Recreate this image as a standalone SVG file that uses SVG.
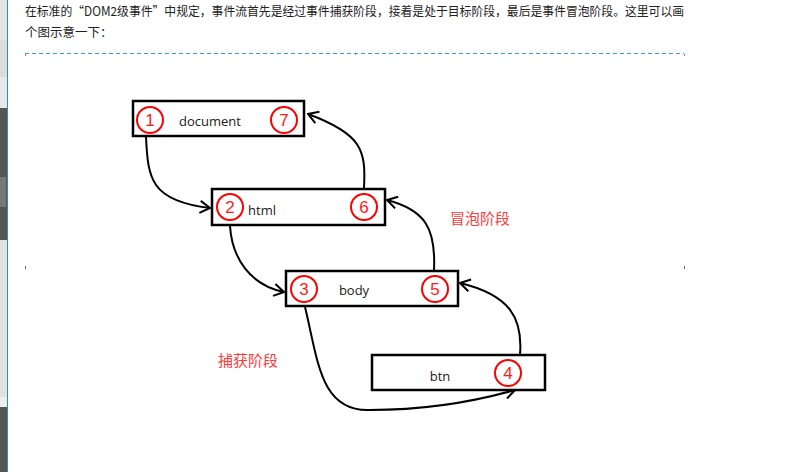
<svg xmlns="http://www.w3.org/2000/svg" width="806" height="472" viewBox="0 0 806 472">
<defs>
<style>
.box{fill:#fff;stroke:#000;stroke-width:2.5}
.num{fill:none;stroke:#ff0000;stroke-width:2}
.numt{fill:#ff1a1a;font-family:"Liberation Sans",Arial,sans-serif;font-size:17px;text-anchor:middle}
.lbl{fill:#1a1a1a;font-family:"Open Sans","Liberation Sans",sans-serif;font-size:13px;text-anchor:middle}
.con{fill:none;stroke:#000;stroke-width:2}
.phase{fill:#ff3b3b;font-family:"Noto Sans CJK SC",sans-serif;font-size:15px}
.body{fill:#222;font-family:"Noto Sans CJK SC",sans-serif;font-size:12.5px}
</style>
<marker id="arr" viewBox="0 0 12 14" refX="11" refY="7" markerWidth="12" markerHeight="14" markerUnits="userSpaceOnUse" orient="auto">
<path d="M1,1 L11,7 L1,13" fill="none" stroke="#000" stroke-width="2"/>
</marker>
</defs>
<rect width="806" height="472" fill="#fff"/>
<!-- left screenshot strip -->
<g id="strip">
<rect x="0" y="0" width="7" height="40" fill="#e4e4e4"/>
<rect x="0" y="40" width="7" height="37" fill="#dcdcdc"/>
<rect x="0" y="77" width="7" height="31" fill="#e8e8e8"/>
<rect x="0" y="108" width="7" height="132" fill="#555"/>
<rect x="0" y="177" width="6" height="30" fill="#777"/>
<rect x="0" y="240" width="7" height="157" fill="#e2e2e2"/>
<rect x="0" y="397" width="7" height="10" fill="#eee"/>
<rect x="0" y="407" width="7" height="65" fill="#555"/>
<line x1="7.5" y1="0" x2="7.5" y2="472" stroke="#2a8ae0" stroke-width="1"/>
</g>
<g id="intro">
<text class="body" x="25" y="16" textLength="659" lengthAdjust="spacingAndGlyphs">在标准的“DOM2级事件”中规定，事件流首先是经过事件捕获阶段，接着是处于目标阶段，最后是事件冒泡阶段。这里可以画</text>
<text class="body" x="25" y="37">个图示意一下：</text>
</g>
<g id="frame">
<line x1="25" y1="53.5" x2="684" y2="53.5" stroke="#3a9be0" stroke-width="1" stroke-dasharray="4,3"/>
<path d="M25.5,54 v2 M684.5,54 v2 M355.5,54 v1" stroke="#888" stroke-width="1"/>
<path d="M25.5,266 v3 M684.5,266 v3" stroke="#666" stroke-width="1"/>
</g>
<g id="connectors">
<path class="con" d="M146,137 C148,178 150,201 210,208" marker-end="url(#arr)"/>
<path class="con" d="M230,226 C232,258 250,285 284,292" marker-end="url(#arr)"/>
<path class="con" d="M305,307 C318,360 320,412 370,410 C430,410 480,400 515,390" marker-end="url(#arr)"/>
<path class="con" d="M520,355 C523,318 510,295 460,283" marker-end="url(#arr)"/>
<path class="con" d="M434,270 C436,228 425,210 387,200" marker-end="url(#arr)"/>
<path class="con" d="M364,188 C366,150 362,134 308,114" marker-end="url(#arr)"/>
</g>
<g id="document">
<rect class="box" x="133" y="101" width="171" height="35"/>
<text class="lbl" x="210" y="126">document</text>
<circle class="num" cx="150" cy="120" r="13"/><text class="numt" x="150" y="126">1</text>
<circle class="num" cx="284" cy="120" r="13"/><text class="numt" x="284" y="126">7</text>
</g>
<g id="html">
<rect class="box" x="212" y="189" width="173" height="36"/>
<text class="lbl" x="262" y="215">html</text>
<circle class="num" cx="230" cy="207" r="13"/><text class="numt" x="230" y="213">2</text>
<circle class="num" cx="364" cy="207" r="13"/><text class="numt" x="364" y="213">6</text>
</g>
<g id="body">
<rect class="box" x="286" y="271" width="172" height="35"/>
<text class="lbl" x="354" y="295">body</text>
<circle class="num" cx="304" cy="289" r="13"/><text class="numt" x="304" y="295">3</text>
<circle class="num" cx="435" cy="289" r="13"/><text class="numt" x="435" y="295">5</text>
</g>
<g id="btn">
<rect class="box" x="372" y="355" width="173" height="35"/>
<text class="lbl" x="440" y="381">btn</text>
<circle class="num" cx="508" cy="373" r="13"/><text class="numt" x="508" y="379">4</text>
</g>
<g id="labels">
<text class="phase" x="450" y="224">冒泡阶段</text>
<text class="phase" x="218" y="366">捕获阶段</text>
</g>
</svg>
